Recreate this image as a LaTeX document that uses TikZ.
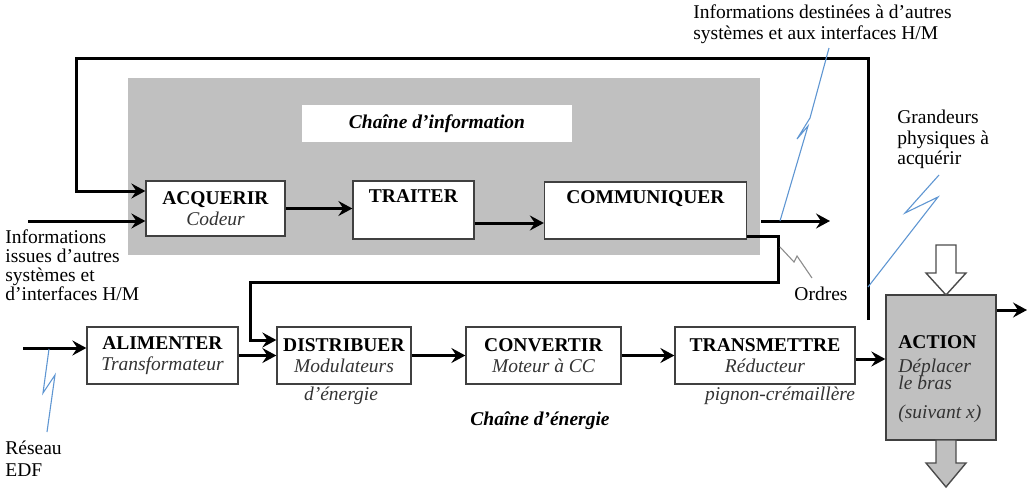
\documentclass[tikz,border=0pt]{standalone}
\usepackage{fontspec}
\setmainfont{Liberation Serif}
\usetikzlibrary{arrows.meta,calc}
\definecolor{zgray}{RGB}{192,192,192}
\definecolor{agray}{RGB}{192,192,192}
\definecolor{zblue}{RGB}{95,150,210}
\begin{document}
\begin{tikzpicture}[x=0.5pt,y=-0.5pt,
  every node/.style={font=\fontsize{9.75}{10.5}\selectfont, inner sep=0pt},
  blk/.style={draw=black!75, line width=0.65pt, fill=white, align=center, minimum height=28.5pt},
  arr/.style={line width=1.5pt, -{Stealth[length=7pt,width=7.5pt,inset=2.5pt]}},
  bolt/.style={draw=zblue, line width=0.55pt, line join=miter},
  sub/.style={text=black!80},
]
\useasboundingbox (0,0) rectangle (1034,493);

% information chain background
\fill[zgray] (128,78) rectangle (760,255);
\node[fill=white, minimum width=135pt, minimum height=18.5pt] (chinfo) at (437,123.5)
  {\textbf{\textit{Chaîne d’information}}};

% information chain blocks
\node[blk, minimum width=69.5pt, minimum height=27.5pt] (acq) at (215.5,208.5)
  {\textbf{ACQUERIR}\\\textit{\color{black!80}Codeur}};
\node[blk, minimum width=60.5pt, minimum height=29pt] (trait) at (413.5,210)
  {\textbf{TRAITER}\\\strut};
\node[blk, minimum width=101pt, minimum height=28.5pt] (comm) at (645.5,210.5)
  {\textbf{COMMUNIQUER}\\\strut};

% energy chain blocks
\node[blk, minimum width=75.5pt] (alim) at (162.5,355.5)
  {\textbf{ALIMENTER}\\\textit{\color{black!80}Transformateur}};
\node[blk, minimum width=67pt] (dist) at (344,355.5)
  {\textbf{DISTRIBUER}\\\textit{\color{black!80}Modulateurs}};
\node[blk, minimum width=77.5pt] (conv) at (543.5,355.5)
  {\textbf{CONVERTIR}\\\textit{\color{black!80}Moteur à CC}};
\node[blk, minimum width=90pt] (trans) at (765,355.5)
  {\textbf{TRANSMETTRE}\\\textit{\color{black!80}Réducteur}};
\node[draw=black!75, line width=0.65pt, fill=agray, minimum width=55pt, minimum height=72.5pt] (act) at (941,367.5) {};
\node[anchor=base west] (t1) at (898,348) {\textbf{ACTION}};
\node[anchor=base west, sub] (t2) at (898,372) {\textit{Déplacer}};
\node[anchor=base west, sub] (t3) at (898,389) {\textit{le bras}};
\node[anchor=base west, sub] (t4) at (898,418) {\textit{(suivant x)}};

% free texts
\node[anchor=north west, align=left] (txtdest) at (693,4)
  {Informations destinées à d’autres\\systèmes et aux interfaces H/M};
\node[anchor=north west, align=left, font=\fontsize{9.75}{10.25}\selectfont] (txtgr) at (897,110)
  {Grandeurs\\physiques à\\acquérir};
\node[anchor=north west, align=left, font=\fontsize{9.75}{9.5}\selectfont] (txtin) at (5,229)
  {Informations\\issues d’autres\\systèmes et\\d’interfaces H/M};
\node[anchor=north west, align=left, font=\fontsize{9.75}{11}\selectfont] (txtedf) at (5,441)
  {Réseau\\EDF};
\node[anchor=base] (txtord) at (821,300) {Ordres};
\node[anchor=base, sub] (txtde) at (341,400) {\textit{d’énergie}};
\node[anchor=base, sub] (txtpc) at (780,400) {\textit{pignon-crémaillère}};
\node[anchor=base] (txtce) at (540,425) {\textbf{\textit{Chaîne d’énergie}}};

% coordinates for free ends
\coordinate (fbstart) at (868,320);
\coordinate (in1) at (28,221);
\coordinate (in2) at (23,348);
\coordinate (out1) at (830,221);
\coordinate (out1s) at (761,221);
\coordinate (out2) at (1027,310);

% connectors
\draw[arr] (fbstart) -- (868,58) -- (76,58) |- ([yshift=8.75pt]acq.west);
\draw[arr] (in1) -- (in1 -| acq.west);
\draw[arr] (acq.east) -- (acq.east -| trait.west);
\draw[arr] ([yshift=-6.5pt]trait.east) -- ([yshift=-6.5pt]trait.east -| comm.west);
\draw[arr] (out1s) -- (out1);
\draw[arr] ([yshift=-13pt]comm.east) -| (778,282) -| (250,340) -- ([yshift=7.75pt]dist.west);
\draw[arr] (in2) -- (in2 -| alim.west);
\draw[arr] (alim.east) -- (alim.east -| dist.west);
\draw[arr] (dist.east) -- (dist.east -| conv.west);
\draw[arr] (conv.east) -- (conv.east -| trans.west);
\draw[arr] ([yshift=-1.75pt]trans.east) -- ([yshift=-1.75pt]trans.east -| act.west);
\draw[arr] (act.east |- out2) -- (out2);

% hollow arrows
\draw[draw=black!70, line width=0.7pt, fill=white, line join=miter]
  (936,245) -- (956,245) -- (956,273) -- (966,273) -- (946,295) -- (926,273) -- (936,273) -- cycle;
\draw[draw=black!70, line width=0.7pt, fill=agray, line join=miter]
  (936,440) -- (956,440) -- (956,463) -- (966,463) -- (946,487) -- (926,463) -- (936,463) -- cycle;

% lightning marks
\draw[bolt] (829,48) -- (810,118) -- (797,139) -- (808,126) -- (780,221);
\draw[bolt] (939,175) -- (905,213) -- (938,197) -- (868,287);
\draw[bolt, draw=black!45] (780,247) -- (794,262) -- (797,256) -- (812,278);
\draw[bolt] (49,349) -- (43,393) -- (55,375) -- (47,432);
\end{tikzpicture}
\end{document}
